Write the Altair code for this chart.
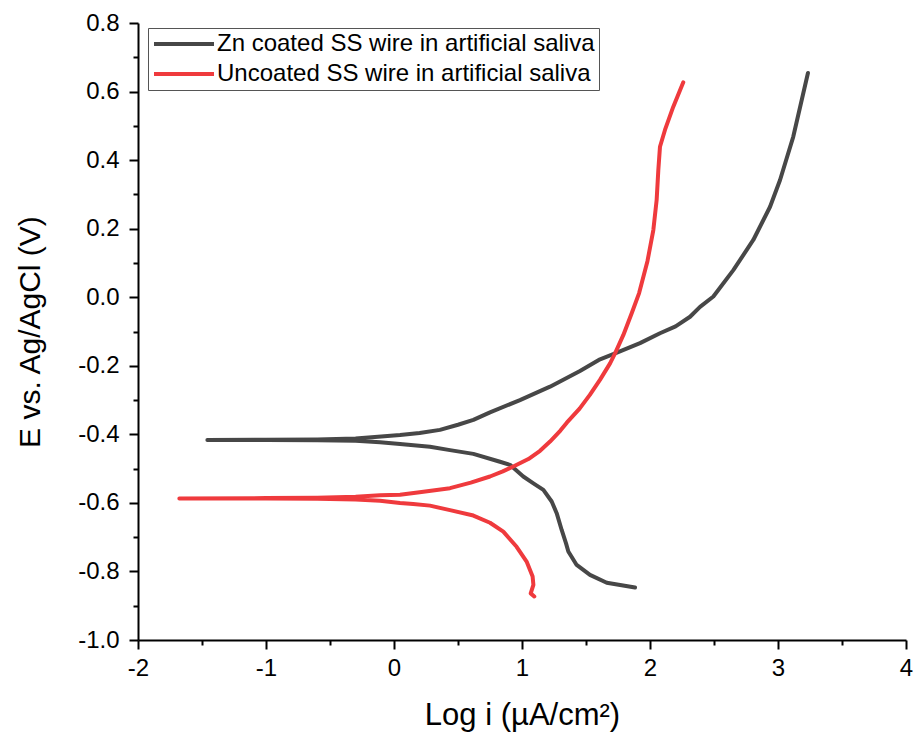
import altair as alt
import pandas as pd

# Zn coated SS wire (cathodic end -> Ecorr tip -> anodic end)
zn_logi = [1.883, 1.662, 1.531, 1.427, 1.362, 1.344, 1.310, 1.271, 1.232, 1.167, 1.089, 1.010, 0.906,
           0.828, 0.620, 0.4375, 0.281, 0.047, -0.109, -0.3, -0.6, -1.0, -1.458,
           -1.0, -0.6, -0.3, -0.1, 0.047, 0.2, 0.359, 0.5, 0.620, 0.75, 0.984, 1.219, 1.453, 1.6,
           1.713, 1.922, 2.078, 2.2, 2.313, 2.391, 2.495, 2.651, 2.807, 2.938, 3.016, 3.119, 3.234]
zn_E = [-0.847, -0.833, -0.810, -0.781, -0.742, -0.718, -0.679, -0.630, -0.596, -0.562, -0.543, -0.523, -0.489,
        -0.480, -0.457, -0.446, -0.436, -0.428, -0.423, -0.419, -0.417, -0.4165, -0.4165,
        -0.416, -0.415, -0.412, -0.406, -0.402, -0.396, -0.387, -0.372, -0.358, -0.336, -0.300, -0.261, -0.215, -0.183,
        -0.166, -0.134, -0.105, -0.085, -0.057, -0.028, 0.002, 0.079, 0.167, 0.264, 0.342, 0.468, 0.654]

# Uncoated SS wire
un_logi = [1.096, 1.068, 1.089, 1.083, 1.036, 0.958, 0.854, 0.75, 0.62, 0.4375, 0.281, 0.15, 0.047, -0.109,
           -0.3, -0.6, -1.0, -1.677,
           -1.0, -0.6, -0.3, -0.109, 0.047, 0.2, 0.4375, 0.6, 0.75, 0.85, 0.932, 1.05, 1.141, 1.219, 1.30,
           1.35, 1.45, 1.53, 1.609, 1.688, 1.727, 1.792, 1.857, 1.915, 1.98, 2.026, 2.052, 2.065, 2.078,
           2.117, 2.182, 2.260]
un_E = [-0.873, -0.864, -0.839, -0.815, -0.771, -0.728, -0.684, -0.658, -0.637, -0.621, -0.608, -0.603, -0.600, -0.594,
        -0.590, -0.588, -0.587, -0.587,
        -0.586, -0.585, -0.582, -0.578, -0.576, -0.569, -0.557, -0.541, -0.523, -0.508, -0.494, -0.472, -0.448,
        -0.421, -0.389, -0.366, -0.325, -0.285, -0.241, -0.193, -0.164, -0.110, -0.047, 0.012, 0.105, 0.196,
        0.284, 0.371, 0.439, 0.488, 0.556, 0.627]

series = ["Zn coated SS wire in artificial saliva", "Uncoated SS wire in artificial saliva"]
colors = ["#474747", "#ef3a3d"]

x_ticks = [-2, -1.5, -1, -0.5, 0, 0.5, 1, 1.5, 2, 2.5, 3, 3.5, 4]
y_ticks = [-1.0, -0.9, -0.8, -0.7, -0.6, -0.5, -0.4, -0.3, -0.2, -0.1, 0.0,
           0.1, 0.2, 0.3, 0.4, 0.5, 0.6, 0.7, 0.8]

df = pd.concat([
    pd.DataFrame({"logi": zn_logi, "E": zn_E, "series": series[0], "idx": range(len(zn_logi))}),
    pd.DataFrame({"logi": un_logi, "E": un_E, "series": series[1], "idx": range(len(un_logi))}),
])

FONT = "Liberation Sans"

x_axis = alt.Axis(
    values=x_ticks,
    title="Log i (µA/cm²)",
    labelExpr="datum.value == round(datum.value) ? replace(format(datum.value, 'd'), '\u2212', '-') : ''",
    tickSize={"condition": {"test": "datum.value == round(datum.value)", "value": 9}, "value": 5},
    grid=False, domainColor="black", domainWidth=2, tickColor="black", tickWidth=2,
    labelFont=FONT, labelFontSize=24, labelColor="black", labelPadding=7, labelFlush=False,
    titleFont=FONT, titleFontSize=31, titleFontWeight="normal", titleColor="black", titlePadding=20,
)
y_axis = alt.Axis(
    values=y_ticks,
    title="E vs. Ag/AgCl (V)",
    labelExpr="abs(round(datum.value*10)) % 2 == 0 ? replace(format(datum.value, '.1f'), '\u2212', '-') : ''",
    tickSize={"condition": {"test": "abs(round(datum.value*10)) % 2 == 0", "value": 9}, "value": 5},
    grid=False, domainColor="black", domainWidth=2, tickColor="black", tickWidth=2,
    labelFont=FONT, labelFontSize=24, labelColor="black", labelPadding=10, labelFlush=False,
    titleFont=FONT, titleFontSize=30, titleFontWeight="normal", titleColor="black", titlePadding=32,
)

chart = alt.Chart(df).mark_line(strokeWidth=4, strokeCap="round", strokeJoin="round").encode(
    x=alt.X("logi:Q", scale=alt.Scale(domain=[-2, 4], nice=False, zero=False), axis=x_axis),
    y=alt.Y("E:Q", scale=alt.Scale(domain=[-1.0, 0.8], nice=False, zero=False), axis=y_axis),
    color=alt.Color("series:N", scale=alt.Scale(domain=series, range=colors),
                    legend=alt.Legend(
                        title=None, orient="none", legendX=10, legendY=5,
                        symbolType="M-1,0H5", symbolSize=400, symbolStrokeWidth=4,
                        labelOffset=41, labelFont=FONT, labelFontSize=24, labelColor="black",
                        labelLimit=700, rowPadding=6, padding=4,
                        strokeColor="#555555", fillColor="white",
                    )),
    order="idx:Q",
).properties(
    width=768, height=617, autosize="none",
    padding={"left": 138, "top": 23, "right": 8, "bottom": 102},
).configure_view(stroke="transparent")

chart.save("out.html", embed_options={"renderer": "svg", "actions": False})
